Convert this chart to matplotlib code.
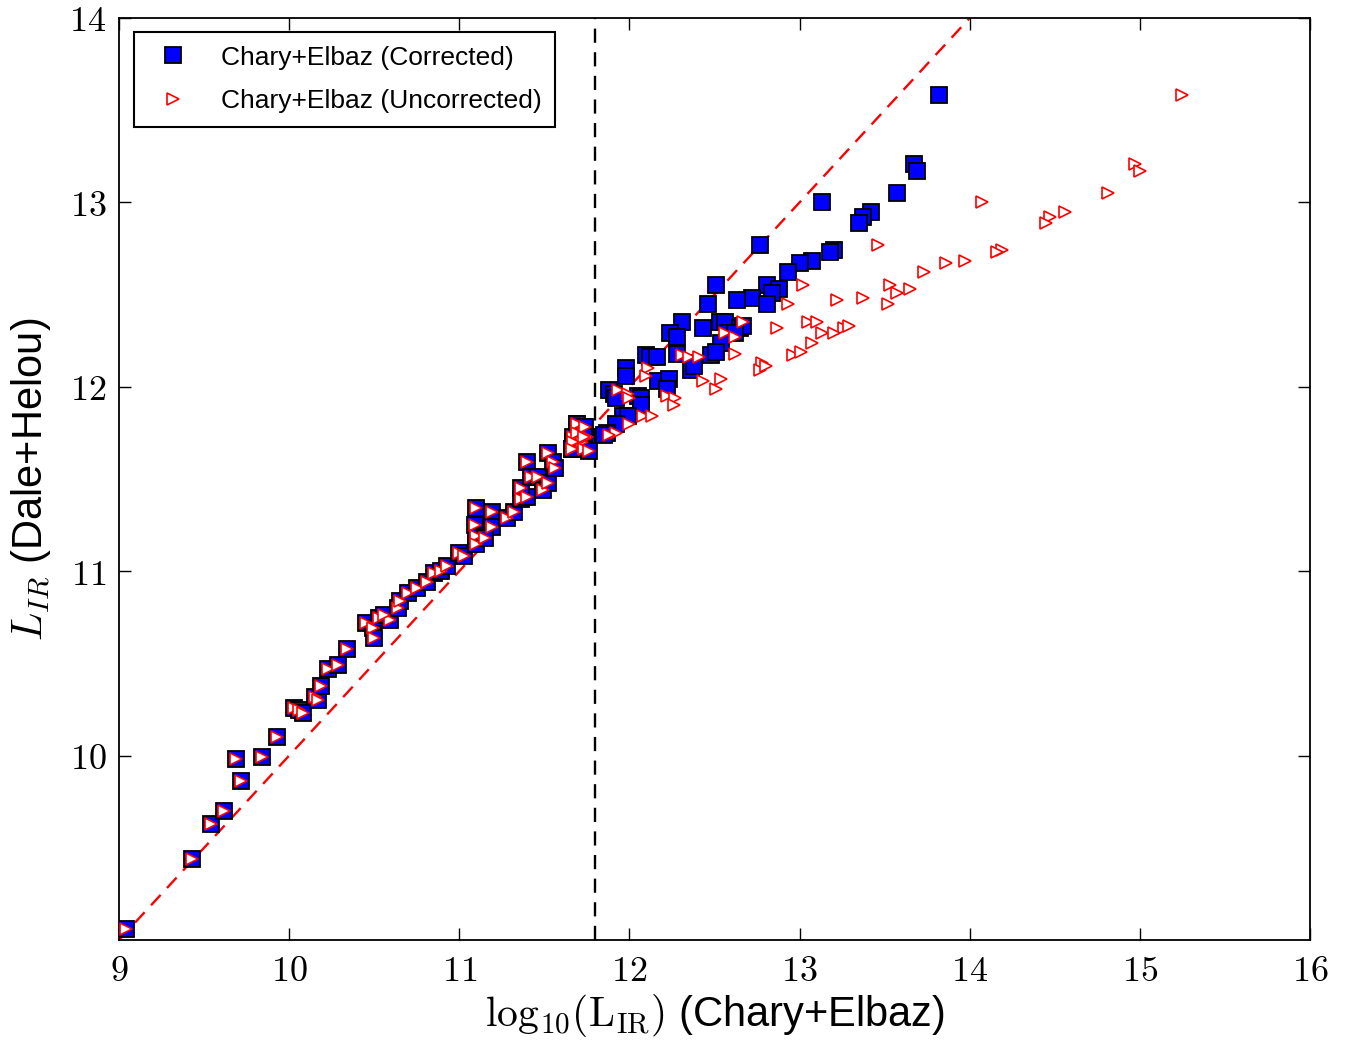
import matplotlib
matplotlib.use("Agg")
import matplotlib.pyplot as plt
from matplotlib.ticker import FuncFormatter, FixedLocator

plt.rcParams['font.family'] = ['Liberation Sans', 'DejaVu Sans']
plt.rcParams['mathtext.fontset'] = 'cm'

# ---- data ----
# galaxies below the correction threshold (corrected == uncorrected)
x_low = [9.04, 9.43, 9.54, 9.62, 9.72, 9.69, 9.84, 9.93, 10.03, 10.06, 10.08,
         10.15, 10.17, 10.19, 10.23, 10.29, 10.34, 10.45, 10.49, 10.50, 10.53,
         10.59, 10.56, 10.64, 10.65, 10.70, 10.75, 10.81, 10.85, 10.89, 10.93,
         11.00, 11.03, 11.10, 11.19, 11.09, 11.10, 11.10, 11.19, 11.15, 11.28,
         11.32, 11.36, 11.40, 11.36, 11.40, 11.42, 11.46, 11.49, 11.52, 11.52,
         11.55, 11.56, 11.66, 11.67, 11.69, 11.73, 11.72, 11.73, 11.75, 11.69,
         11.74, 11.69, 11.73, 11.67, 11.73, 11.76, 11.66]
y_low = [9.06, 9.44, 9.63, 9.70, 9.86, 9.98, 9.99, 10.10, 10.26, 10.25, 10.23,
         10.32, 10.30, 10.38, 10.47, 10.49, 10.58, 10.72, 10.69, 10.64, 10.745,
         10.735, 10.76, 10.80, 10.84, 10.88, 10.91, 10.94, 10.99, 11.00, 11.03,
         11.10, 11.08, 11.34, 11.32, 11.25, 11.19, 11.15, 11.24, 11.18, 11.29,
         11.32, 11.39, 11.40, 11.45, 11.59, 11.51, 11.51, 11.44, 11.48, 11.64,
         11.59, 11.56, 11.66, 11.73, 11.80, 11.78, 11.70, 11.66, 11.73, 11.80,
         11.78, 11.75, 11.73, 11.70, 11.66, 11.65, 11.66]

# galaxies above the threshold: Dale+Helou value, corrected and uncorrected C+E
y_high = [13.58, 13.21, 13.17, 13.05, 13.00, 12.95, 12.92, 12.89, 12.77, 12.74,
          12.73, 12.68, 12.67, 12.62, 12.55, 12.55, 12.53, 12.51, 12.48, 12.45,
          12.47, 12.45, 12.35, 12.35, 12.35, 12.32, 12.32, 12.33, 12.29, 12.29,
          12.29, 12.27, 12.24, 12.17, 12.19, 12.18, 12.17, 12.16, 12.16, 12.13,
          12.09, 12.11, 12.10, 12.06, 12.03, 12.04, 11.99, 11.98, 11.96, 11.95,
          11.94, 11.90, 11.94, 11.84, 11.84, 11.80, 11.75, 11.74]
xc_high = [13.82, 13.67, 13.69, 13.57, 13.13, 13.42, 13.37, 13.35, 12.77, 13.20,
           13.18, 13.07, 13.00, 12.93, 12.51, 12.81, 12.88, 12.84, 12.72, 12.81,
           12.63, 12.46, 12.31, 12.53, 12.56, 12.43, 12.65, 12.67, 12.58, 12.62,
           12.24, 12.28, 12.54, 12.48, 12.51, 12.28, 12.10, 12.12, 12.16, 12.37,
           12.36, 12.38, 11.98, 11.98, 12.17, 12.23, 12.22, 11.88, 11.91, 12.05,
           12.07, 12.07, 11.92, 11.96, 11.99, 11.92, 11.87, 11.85]
xu_high = [15.25, 14.97, 15.00, 14.81, 14.07, 14.56, 14.47, 14.45, 13.46, 14.19,
           14.16, 13.97, 13.86, 13.73, 13.02, 13.53, 13.65, 13.57, 13.37, 13.52,
           13.22, 12.93, 12.67, 13.05, 13.10, 12.87, 13.26, 13.29, 13.13, 13.20,
           12.56, 12.62, 13.07, 12.96, 13.01, 12.62, 12.31, 12.35, 12.41, 12.78,
           12.77, 12.80, 12.11, 12.10, 12.43, 12.54, 12.51, 11.93, 11.99, 12.22,
           12.27, 12.26, 12.00, 12.08, 12.13, 12.00, 11.92, 11.88]

x_corr = x_low + xc_high
x_unc = x_low + xu_high
y_dh = y_low + y_high

threshold = 11.8
one_to_one = [9, 14]

x_ticks = [9, 10, 11, 12, 13, 14, 15, 16]
y_ticks = [10, 11, 12, 13, 14]

# ---- figure ----
fig = plt.figure(figsize=(13.46, 10.44), dpi=100)
ax = fig.add_axes([0.0884, 0.0996, 0.8849, 0.8832])

ax.plot(x_corr, y_dh, linestyle='none', marker='s', markersize=11.5,
        markerfacecolor='#0000ff', markeredgecolor='black', markeredgewidth=1.3,
        label='Chary+Elbaz (Corrected)', zorder=3)
ax.plot(x_unc, y_dh, linestyle='none', marker='>', markersize=8.8,
        markerfacecolor='white', markeredgecolor='red', markeredgewidth=1.2,
        label='Chary+Elbaz (Uncorrected)', zorder=4)

ax.plot(one_to_one, one_to_one, color='red', linestyle=(0, (6, 4)), linewidth=1.7, zorder=2)
ax.axvline(threshold, color='black', linestyle=(0, (6, 4)), linewidth=1.7, zorder=2)

ax.set_xlim(9, 16)
ax.set_ylim(9.0, 14)
ax.xaxis.set_major_locator(FixedLocator(x_ticks))
ax.yaxis.set_major_locator(FixedLocator(y_ticks))
fmt = FuncFormatter(lambda v, p: r'$%d$' % v)
ax.xaxis.set_major_formatter(fmt)
ax.yaxis.set_major_formatter(fmt)
ax.tick_params(direction='in', length=8.5, width=1, top=True, right=True,
               labelsize=26)
ax.tick_params(axis='x', pad=10)
ax.tick_params(axis='y', pad=9)
for s in ax.spines.values():
    s.set_linewidth(1.3)

ax.set_xlabel(r'$\mathrm{log}_{10}(\mathrm{L_{IR}})$ (Chary+Elbaz)', fontsize=30, labelpad=2)
ax.set_ylabel(r'$L_{IR}$ (Dale+Helou)', fontsize=30, labelpad=12)

leg = ax.legend(loc='upper left', numpoints=1, fontsize=19, fancybox=False,
                edgecolor='black', framealpha=1, borderaxespad=0.55,
                borderpad=0.5, labelspacing=0.75)
leg.get_frame().set_linewidth(1.5)

fig.savefig('out.png', dpi=100)
